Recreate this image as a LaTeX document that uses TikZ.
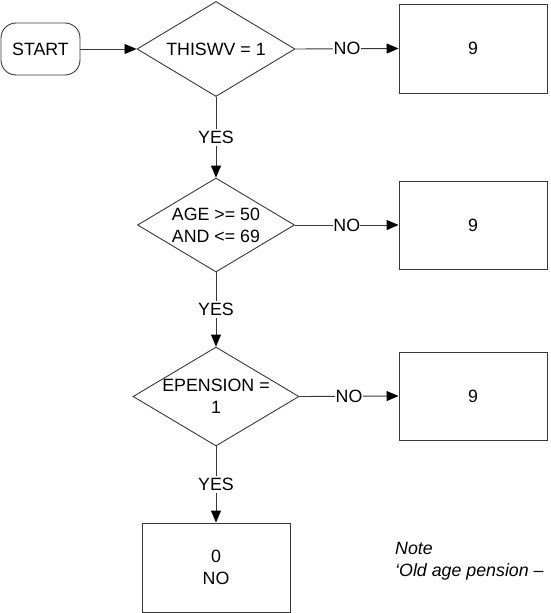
\documentclass[tikz,border=0pt]{standalone}
\usepackage{fontspec}
\setmainfont{Liberation Sans}
\usetikzlibrary{shapes.geometric,arrows.meta}
\begin{document}
\begin{tikzpicture}[x=1pt,y=-1pt,
  every node/.style={font=\fontsize{17.8}{22}\selectfont, align=center},
  ln/.style={draw=black!78, line width=0.9pt},
  arr/.style={ln, -{Triangle[length=12pt,width=10pt,fill=black,color=black]}},
  startbox/.style={ln, rectangle, rounded corners=15pt, minimum width=79pt, minimum height=52pt, inner sep=0pt},
  dia/.style={ln, diamond, inner sep=0pt},
  outbox/.style={ln, rectangle, minimum width=148pt, minimum height=88pt, inner sep=0pt},
  lbl/.style={fill=white, inner sep=0.3pt},
  ylbl/.style={fill=white, inner sep=2pt}
]
\useasboundingbox (0,0) rectangle (550,613);
\node[startbox] (start) at (40.5,49) {START};
\node[dia, minimum width=158pt, minimum height=95pt] (d1) at (216,49) {};
\node (t1) at (d1.center) {THISWV = 1};
\node[dia, minimum width=157pt, minimum height=94pt] (d2) at (216,225) {};
\node (t2) at (d2.center) {AGE >= 50\\AND <= 69};
\node[dia, minimum width=166pt, minimum height=99pt] (d3) at (216,396.5) {};
\node (t3) at (d3.center) {EPENSION =\\1};
\node[outbox, minimum height=89pt] (b1) at (473,48.5) {9};
\node[outbox] (b2) at (473,225) {9};
\node[outbox] (b3) at (473,396) {9};
\node[outbox, minimum height=89pt] (b4) at (216,567.5) {0\\NO};
\node[anchor=west, align=left, inner sep=0pt, font=\fontsize{17.8}{22}\selectfont\itshape] (note) at (395,561) {Note\\`Old age pension --};
\draw[arr] (start) -- (d1);
\draw[arr] (d1.east) -- node[lbl] {NO} (b1.west);
\draw[arr] (d2.east) -- node[lbl] {NO} (b2.west);
\draw[arr] (d3.east) -- node[lbl] {NO} (b3.west);
\draw[arr] (d1.south) -- node[ylbl] {YES} (d2.north);
\draw[arr] (d2.south) -- node[ylbl] {YES} (d3.north);
\draw[arr] (d3.south) -- node[ylbl] {YES} (b4.north);
\end{tikzpicture}
\end{document}
